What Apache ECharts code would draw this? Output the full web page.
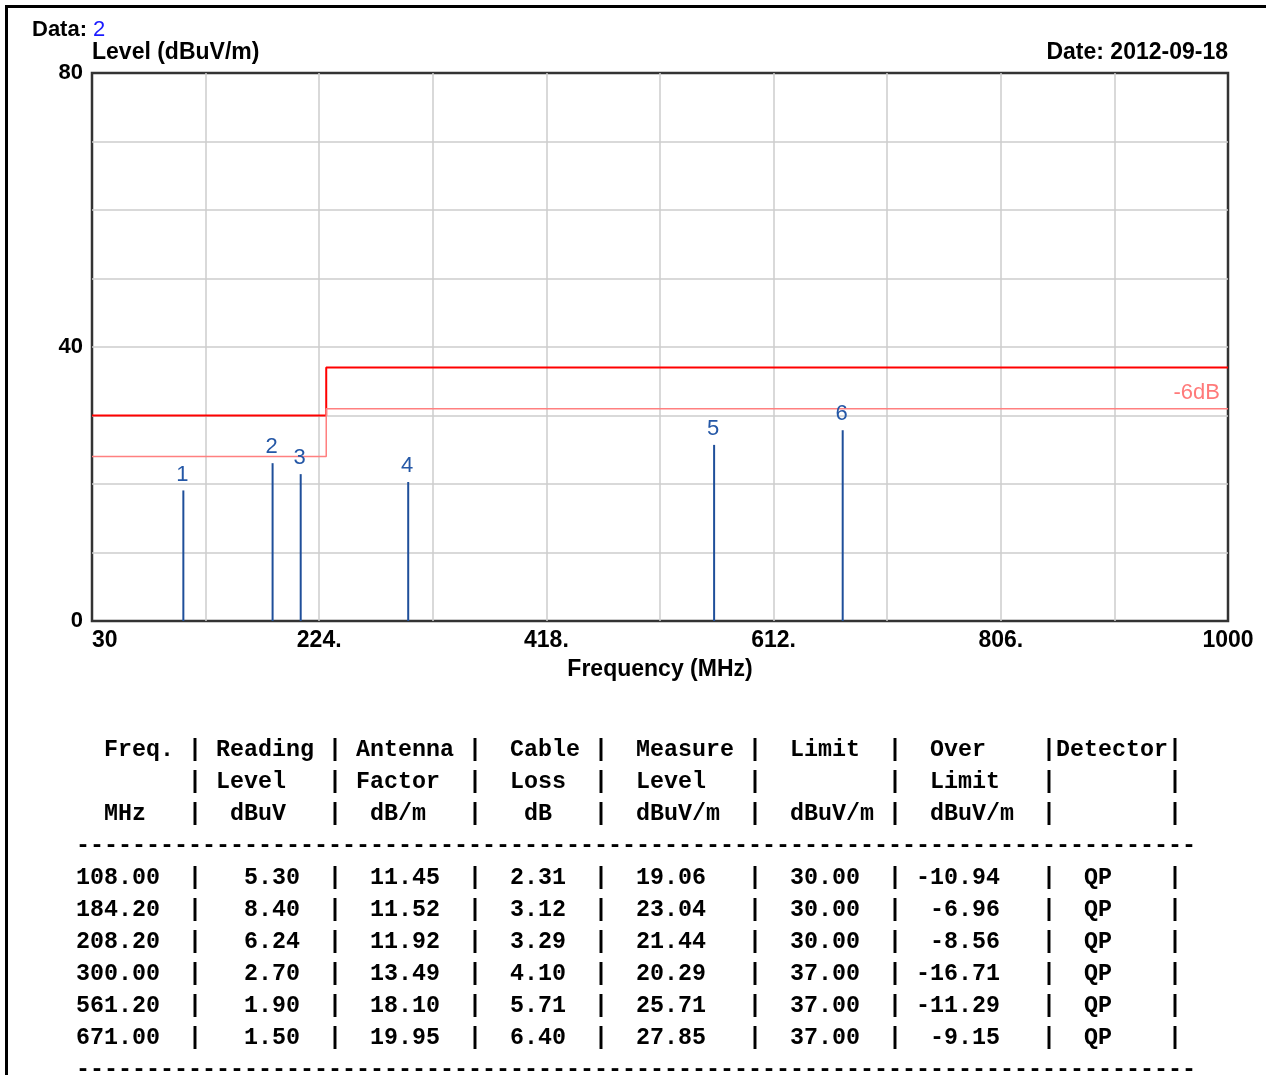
<!DOCTYPE html>
<html>
<head>
<meta charset="utf-8">
<script src="https://cdn.jsdelivr.net/npm/echarts@6/dist/echarts.min.js"></script>
<style>
html,body{margin:0;padding:0;background:#fff;}
#chart{width:1266px;height:1075px;}
</style>
</head>
<body>
<div id="chart"></div>
<script>
// ---- data ----
const dataLabel = '2';
const dateText = '2012-09-18';
const freqs = [108.00, 184.20, 208.20, 300.00, 561.20, 671.00];
const readingLevel = [5.30, 8.40, 6.24, 2.70, 1.90, 1.50];
const antennaFactor = [11.45, 11.52, 11.92, 13.49, 18.10, 19.95];
const cableLoss = [2.31, 3.12, 3.29, 4.10, 5.71, 6.40];
const measureLevel = [19.06, 23.04, 21.44, 20.29, 25.71, 27.85];
const limitValue = [30.00, 30.00, 30.00, 37.00, 37.00, 37.00];
const overLimit = [-10.94, -6.96, -8.56, -16.71, -11.29, -9.15];
const detector = ['QP', 'QP', 'QP', 'QP', 'QP', 'QP'];
const limitFreq = [30, 230, 230, 1000];
const limitLevel = [30, 30, 37, 37];
const marginLevel = [24, 24, 31, 31];
const marginLabel = '-6dB';
const xTickValues = [30, 224, 418, 612, 806, 1000];
const xTickLabels = ['30', '224.', '418.', '612.', '806.', '1000'];
const yTickValues = [0, 40, 80];
const yTickLabels = ['0', '40', '80'];
const headerLines = [
  '  Freq. | Reading | Antenna |  Cable |  Measure |  Limit  |  Over    |Detector|',
  '        | Level   | Factor  |  Loss  |  Level   |         |  Limit   |        |',
  '  MHz   |  dBuV   |  dB/m   |   dB   |  dBuV/m  |  dBuV/m |  dBuV/m  |        |'
];

// ---- table rows built from data ----
function makeRow(i) {
  const a = new Array(80).fill(' ');
  function putR(s, end) { for (let k = 0; k < s.length; k++) a[end - s.length + 1 + k] = s[k]; }
  function putL(s, st) { for (let k = 0; k < s.length; k++) a[st + k] = s[k]; }
  putR(freqs[i].toFixed(2), 5); putL('|', 8);
  putR(readingLevel[i].toFixed(2), 15); putL('|', 18);
  putR(antennaFactor[i].toFixed(2), 25); putL('|', 28);
  putR(cableLoss[i].toFixed(2), 34); putL('|', 37);
  putR(measureLevel[i].toFixed(2), 44); putL('|', 48);
  putR(limitValue[i].toFixed(2), 55); putL('|', 58);
  putR(overLimit[i].toFixed(2), 65); putL('|', 69);
  putL(detector[i], 72); putL('|', 78);
  return a.join('');
}
const dashLine = new Array(81).join('-');
const monoFont = 'bold 23.33px "Liberation Mono", "Courier New", monospace';
const tableGraphics = [];
headerLines.forEach((t, i) => tableGraphics.push({
  type: 'text', left: 76, top: 739 + i * 32,
  style: { text: t, font: monoFont, fill: '#000' }
}));
tableGraphics.push({ type: 'text', left: 76, top: 835, style: { text: dashLine, font: monoFont, fill: '#000' } });
freqs.forEach((f, i) => tableGraphics.push({
  type: 'text', left: 76, top: 867 + i * 32,
  style: { text: makeRow(i), font: monoFont, fill: '#000' }
}));
tableGraphics.push({ type: 'text', left: 76, top: 1059, style: { text: dashLine, font: monoFont, fill: '#000' } });

const sansBold = '"Liberation Sans", Arial, sans-serif';
const chart = echarts.init(document.getElementById('chart'));
const marginData = limitFreq.map((f, i) => {
  const item = { value: [f, marginLevel[i]] };
  if (i === limitFreq.length - 1) {
    item.symbol = 'circle';
    item.symbolSize = 0.1;
    item.label = {
      show: true, formatter: marginLabel, position: 'left', distance: 8, offset: [0, -16],
      color: '#ff7a7a', fontSize: 22, fontFamily: sansBold
    };
  }
  return item;
});
chart.setOption({
  animation: false,
  backgroundColor: '#fff',
  grid: { left: 92, right: 38, top: 73, bottom: 454, show: true, borderColor: '#333', borderWidth: 2.5, backgroundColor: '#fff' },
  xAxis: {
    type: 'value', min: 30, max: 1000, interval: 97,
    name: 'Frequency (MHz)', nameLocation: 'middle', nameGap: 37,
    nameTextStyle: { fontFamily: sansBold, fontWeight: 'bold', fontSize: 23, color: '#000' },
    axisLine: { show: false }, axisTick: { show: false },
    splitLine: { show: true, showMinLine: false, showMaxLine: false, lineStyle: { color: '#cccccc', width: 1.5 } },
    axisLabel: {
      margin: 8, fontFamily: sansBold, fontWeight: 'bold', fontSize: 23, color: '#000',
      alignMinLabel: 'left', alignMaxLabel: 'center',
      formatter: v => { const k = xTickValues.indexOf(Math.round(v)); return k >= 0 ? xTickLabels[k] : ''; }
    }
  },
  yAxis: {
    type: 'value', min: 0, max: 80, interval: 10,
    name: 'Level (dBuV/m)', nameLocation: 'end', nameGap: 9,
    nameTextStyle: { fontFamily: sansBold, fontWeight: 'bold', fontSize: 23, color: '#000', align: 'left', verticalAlign: 'bottom' },
    axisLine: { show: false }, axisTick: { show: false },
    splitLine: { show: true, showMinLine: false, showMaxLine: false, lineStyle: { color: '#cccccc', width: 1.5 } },
    axisLabel: {
      margin: 9, fontFamily: sansBold, fontWeight: 'bold', fontSize: 22, color: '#000',
      formatter: v => { const k = yTickValues.indexOf(Math.round(v)); return k >= 0 ? yTickLabels[k] : ''; }
    }
  },
  series: [
    {
      type: 'line', data: limitFreq.map((f, i) => [f, limitLevel[i]]), symbol: 'none',
      lineStyle: { color: '#ff0000', width: 2 }, z: 3
    },
    {
      type: 'line', data: marginData, symbol: 'none',
      lineStyle: { color: '#ff8080', width: 1.5 }, z: 3
    },
    {
      type: 'bar', data: freqs.map((f, i) => [f, measureLevel[i]]), barWidth: 2,
      itemStyle: { color: '#1f4f9a' },
      label: {
        show: true, position: 'top', distance: 5, offset: [-1, 0], formatter: p => String(p.dataIndex + 1),
        color: '#2457a6', fontSize: 22, fontFamily: sansBold
      }, z: 4
    }
  ],
  graphic: [
    { type: 'rect', shape: { x: 5, y: 5, width: 1262, height: 3 }, style: { fill: '#000' } },
    { type: 'rect', shape: { x: 5, y: 5, width: 3, height: 1075 }, style: { fill: '#000' } },
    {
      type: 'text', left: 32, top: 19,
      style: {
        text: '{a|Data: }{b|' + dataLabel + '}',
        rich: {
          a: { fontFamily: sansBold, fontWeight: 'bold', fontSize: 22, fill: '#000' },
          b: { fontFamily: sansBold, fontSize: 22, fill: '#1a1aff' }
        }
      }
    },
    {
      type: 'text', right: 38, top: 41,
      style: { text: 'Date: ' + dateText, font: 'bold 23px ' + sansBold, fill: '#000' }
    }
  ].concat(tableGraphics)
});
</script>
</body>
</html>
